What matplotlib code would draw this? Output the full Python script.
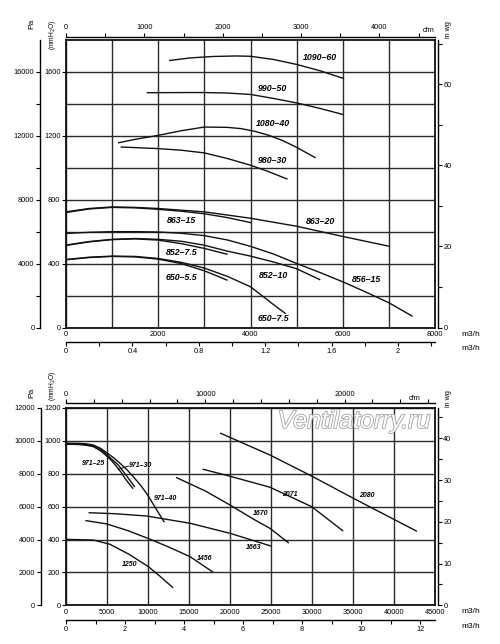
import matplotlib
matplotlib.use('Agg')
import matplotlib.pyplot as plt
import matplotlib.patheffects as pe

plt.rcParams['font.family'] = ['Liberation Sans', 'DejaVu Sans']

# unit conversions
PA_PER_MM = 10.0
MM_PER_INWG = 25.4
M3H_PER_CFM = 1.699
M3H_PER_M3S = 3600.0

# ---------------- top chart data ----------------
top_names = ['1090–60', '990–50', '1080–40', '980–30', '863–20', '863–15',
             '856–15', '852–10', '852–7.5', '650–7.5', '650–5.5']
top_x = [
    [2250, 2700, 3200, 3700, 4000, 4500, 5000, 5500, 6000],
    [1765, 2500, 3000, 3500, 4000, 4500, 5000, 5500, 6000],
    [1143, 1500, 2000, 2500, 3000, 3500, 3800, 4100, 4400, 4700, 5000, 5400],
    [1200, 2000, 2500, 3000, 3500, 4000, 4400, 4790],
    [0, 500, 1000, 1500, 2000, 3000, 4000, 5000, 6000, 7000],
    [0, 500, 1000, 1500, 2000, 2500, 3000, 3500, 4000],
    [0, 500, 1000, 1500, 2000, 2500, 3000, 3500, 4000, 4500, 5000, 5500, 6000, 6500, 7000, 7500],
    [0, 500, 1000, 1500, 2000, 2500, 3000, 3500, 4000, 4500, 5000, 5500],
    [0, 500, 1000, 1500, 2000, 2500, 3000, 3490],
    [0, 500, 1000, 1500, 2000, 2500, 3000, 3500, 4000, 4500, 4750],
    [0, 500, 1000, 1500, 2000, 2500, 3000, 3490],
]
top_y = [
    [1672, 1688, 1697, 1700, 1698, 1678, 1647, 1608, 1561],
    [1470, 1471, 1471, 1468, 1459, 1434, 1406, 1372, 1334],
    [1157, 1178, 1203, 1232, 1255, 1253, 1245, 1228, 1203, 1170, 1128, 1064],
    [1130, 1120, 1110, 1093, 1058, 1016, 975, 930],
    [724, 745, 755, 752, 745, 724, 684, 634, 570, 509],
    [720, 742, 752, 749, 740, 728, 712, 688, 657],
    [589, 596, 600, 600, 598, 590, 575, 548, 508, 460, 401, 345, 286, 222, 155, 72],
    [516, 538, 552, 557, 552, 540, 515, 478, 447, 410, 368, 300],
    [514, 536, 550, 555, 547, 525, 495, 459],
    [426, 440, 447, 445, 432, 408, 372, 320, 255, 143, 89],
    [424, 438, 445, 442, 428, 400, 355, 297],
]
top_label_xy = [(5510, 1693), (4483, 1495), (4483, 1278), (4483, 1047), (5510, 661),
                (2509, 672), (6523, 301), (4497, 328), (2509, 467), (4497, 57), (2509, 313)]

TOP_M3H_TICKS = [0, 2000, 4000, 6000, 8000]
TOP_M3H_GRID = [1000, 3000, 5000, 7000]
TOP_MM_TICKS = [0, 400, 800, 1200, 1600]
TOP_MM_GRID = [200, 600, 1000, 1400]
TOP_PA_TICKS = [0, 4000, 8000, 12000, 16000]
TOP_PA_MINOR = [2000, 6000, 10000, 14000]
TOP_INWG_TICKS = [0, 20, 40, 60]
TOP_INWG_MINOR = [10, 30, 50, 70]
TOP_CFM_TICKS = [0, 1000, 2000, 3000, 4000]
TOP_CFM_MINOR = [500, 1500, 2500, 3500, 4500]
TOP_M3S_TICKS = [0, 0.4, 0.8, 1.2, 1.6, 2.0]
TOP_M3S_LABELS = ['0', '0.4', '0.8', '1.2', '1.6', '2']
TOP_M3S_MINOR = [0.2, 0.6, 1.0, 1.4, 1.8, 2.2]

# ---------------- bottom chart data ----------------
bot_names = ['971–25', '971–30', '971–40', '1663', '1456', '1250', '1670', '2071', '2080']
bot_x = [
    [0, 1500, 2500, 3333, 4200, 4963, 5600, 6179, 6700, 7195, 8130],
    [0, 1500, 2500, 3333, 4200, 4963, 5600, 6382, 7398, 8350],
    [0, 1500, 2500, 3333, 4200, 4963, 5800, 6585, 7400, 8211, 9100, 9959, 11057, 11951],
    [2842, 6000, 9841, 15122, 20000, 24959],
    [2439, 4963, 7500, 10000, 12500, 15122, 17890],
    [81, 3333, 5366, 7700, 10040, 11500, 13000],
    [13500, 17000, 20000, 23000, 24878, 27110],
    [16744, 20000, 24878, 29959, 33740],
    [18865, 24878, 29959, 35041, 42720],
]
bot_y = [
    [980, 978, 973, 965, 940, 908, 878, 843, 810, 772, 712],
    [983, 981, 977, 970, 948, 918, 888, 853, 787, 722],
    [986, 985, 982, 975, 955, 928, 898, 864, 826, 782, 730, 671, 580, 509],
    [563, 557, 543, 499, 438, 361],
    [515, 495, 455, 407, 355, 296, 203],
    [401, 397, 371, 310, 235, 175, 109],
    [776, 695, 610, 520, 468, 381],
    [827, 785, 718, 600, 454],
    [1046, 914, 786, 651, 452],
]
bot_label_xy = [(3333, 864), (9085, 852), (12110, 651), (22927, 350), (16910, 286),
                (7805, 251), (23780, 560), (27317, 671), (36670, 665)]
LEADER_X = [6380, 7600]
LEADER_Y = [827, 847]

BOT_M3H_TICKS = [0, 5000, 10000, 15000, 20000, 25000, 30000, 35000, 40000, 45000]
BOT_MM_TICKS = [0, 200, 400, 600, 800, 1000, 1200]
BOT_PA_TICKS = [0, 2000, 4000, 6000, 8000, 10000, 12000]
BOT_INWG_TICKS = [0, 10, 20, 30, 40]
BOT_INWG_MINOR = [5, 15, 25, 35, 45]
BOT_CFM_TICKS = [0, 10000, 20000]
BOT_CFM_MINOR = [2000, 4000, 6000, 8000, 12000, 14000, 16000, 18000, 22000, 24000, 26000]
BOT_M3S_TICKS = [0, 2, 4, 6, 8, 10, 12]
BOT_M3S_MINOR = [1, 3, 5, 7, 9, 11]

W, H = 500, 644
fig = plt.figure(figsize=(W / 100, H / 100), dpi=100)
fig.patch.set_facecolor('white')

TICK_FS = 5.3
GRID_C = '#2a2a2a'


def fmt(v):
    return str(int(v)) if float(v).is_integer() else str(v)


def setup(ax, xmax, ymax, xt, xg, yt, yg, pa_t, pa_m, wg_t, wg_m, cfm_t, cfm_m,
          m3s_t, m3s_l, m3s_m, pa_off, cfm_off, wg_off, m3s_off):
    ax.set_xlim(0, xmax)
    ax.set_ylim(0, ymax)
    ax.set_xticks(xt)
    ax.set_xticklabels([fmt(v) for v in xt])
    ax.set_xticks(xg, minor=True)
    ax.set_yticks(yt)
    ax.set_yticklabels([fmt(v) for v in yt])
    ax.set_yticks(yg, minor=True)
    ax.grid(True, which='both', color=GRID_C, lw=1.0)
    ax.set_axisbelow(True)
    ax.tick_params(axis='x', which='both', length=0, labelsize=TICK_FS, pad=2.5)
    ax.tick_params(axis='y', which='major', length=3, direction='out', labelsize=TICK_FS, pad=1)
    ax.tick_params(axis='y', which='minor', length=0)
    for s in ax.spines.values():
        s.set_linewidth(1.3)
        s.set_color('#111')

    pa = ax.secondary_yaxis(pa_off, functions=(lambda v: v * PA_PER_MM, lambda v: v / PA_PER_MM))
    pa.set_yticks(pa_t)
    pa.set_yticklabels([fmt(v) for v in pa_t])
    pa.set_yticks(pa_m, minor=True)
    pa.tick_params(which='both', direction='out', length=3, labelsize=TICK_FS, pad=1, width=0.8)
    pa.spines['left'].set_linewidth(1.0)

    wg = ax.secondary_yaxis(wg_off, functions=(lambda v: v / MM_PER_INWG, lambda v: v * MM_PER_INWG))
    wg.set_yticks(wg_t)
    wg.set_yticklabels([fmt(v) for v in wg_t])
    wg.set_yticks(wg_m, minor=True)
    wg.tick_params(which='both', direction='out', length=3, labelsize=TICK_FS, pad=1, width=0.8)
    wg.spines['right'].set_linewidth(1.0)

    cfm = ax.secondary_xaxis(cfm_off, functions=(lambda v: v / M3H_PER_CFM, lambda v: v * M3H_PER_CFM))
    cfm.set_xticks(cfm_t)
    cfm.set_xticklabels([fmt(v) for v in cfm_t])
    cfm.set_xticks(cfm_m, minor=True)
    cfm.tick_params(which='both', direction='out', length=3, labelsize=TICK_FS, pad=1, width=0.8)
    cfm.spines['top'].set_linewidth(1.0)

    m3s = ax.secondary_xaxis(m3s_off, functions=(lambda v: v / M3H_PER_M3S, lambda v: v * M3H_PER_M3S))
    m3s.set_xticks(m3s_t)
    m3s.set_xticklabels(m3s_l)
    m3s.set_xticks(m3s_m, minor=True)
    m3s.tick_params(which='both', direction='out', length=3, labelsize=TICK_FS, pad=1.5, width=0.8)
    m3s.spines['bottom'].set_linewidth(1.0)


# ---- top chart ----
ax1 = fig.add_axes([66 / W, 1 - 327.5 / H, 369 / W, 287.5 / H])
setup(ax1, 8000, 1800, TOP_M3H_TICKS, TOP_M3H_GRID, TOP_MM_TICKS, TOP_MM_GRID,
      TOP_PA_TICKS, TOP_PA_MINOR, TOP_INWG_TICKS, TOP_INWG_MINOR,
      TOP_CFM_TICKS, TOP_CFM_MINOR, TOP_M3S_TICKS, TOP_M3S_LABELS, TOP_M3S_MINOR,
      -26 / 369, 1 + 3 / 287.5, 1 + 3 / 369, -14.5 / 287.5)
for name, xs, ys, (lx, ly) in zip(top_names, top_x, top_y, top_label_xy):
    ax1.plot(xs, ys, color='#111', lw=1.0, zorder=3)
    ax1.text(lx, ly, name, fontsize=6.3, fontweight='bold', style='italic',
             ha='center', va='center', zorder=4)

# ---- bottom chart ----
ax2 = fig.add_axes([66 / W, 1 - 605.3 / H, 369 / W, 197.3 / H])
setup(ax2, 45000, 1200, BOT_M3H_TICKS, [], BOT_MM_TICKS, [],
      BOT_PA_TICKS, [], BOT_INWG_TICKS, BOT_INWG_MINOR,
      BOT_CFM_TICKS, BOT_CFM_MINOR, BOT_M3S_TICKS, [fmt(v) for v in BOT_M3S_TICKS], BOT_M3S_MINOR,
      -25.3 / 369, 1 + 4.5 / 197.3, 1 + 2.7 / 369, -14.7 / 197.3)
for name, xs, ys, (lx, ly) in zip(bot_names, bot_x, bot_y, bot_label_xy):
    ax2.plot(xs, ys, color='#111', lw=1.0, zorder=3)
    ax2.text(lx, ly, name, fontsize=5.0, fontweight='bold', style='italic',
             ha='center', va='center', zorder=4)
ax2.plot(LEADER_X, LEADER_Y, color='#111', lw=0.7, zorder=3)
ax2.text(35120, 1121, 'Ventilatorry.ru', fontsize=18, style='italic', color='white',
         ha='center', va='center', zorder=5,
         path_effects=[pe.withStroke(linewidth=1.1, foreground='#9a9a9a')])

# ---- axis unit labels ----
UNIT_FS = 6
for yy in (1 - 24 / H, 1 - 393 / H):
    fig.text(32 / W, yy, 'Pa', rotation=90, fontsize=UNIT_FS, ha='center', va='center')
for yy in (1 - 35 / H, 1 - 386 / H):
    fig.text(53 / W, yy, '(mmH$_2$O)', rotation=90, fontsize=4.8, ha='center', va='center')
for yy in (1 - 30 / H, 1 - 399 / H):
    fig.text(448 / W, yy, 'in wg', rotation=90, fontsize=5.2, ha='center', va='center')
fig.text(429 / W, 1 - 31 / H, 'cfm', fontsize=TICK_FS, ha='center', va='center')
fig.text(415 / W, 1 - 398 / H, 'cfm', fontsize=TICK_FS, ha='center', va='center')
for yy in (334, 348, 611.7, 626.7):
    fig.text(471 / W, 1 - yy / H, 'm3/h', fontsize=6, ha='center', va='center')

fig.savefig('out.png', dpi=100, facecolor='white')
